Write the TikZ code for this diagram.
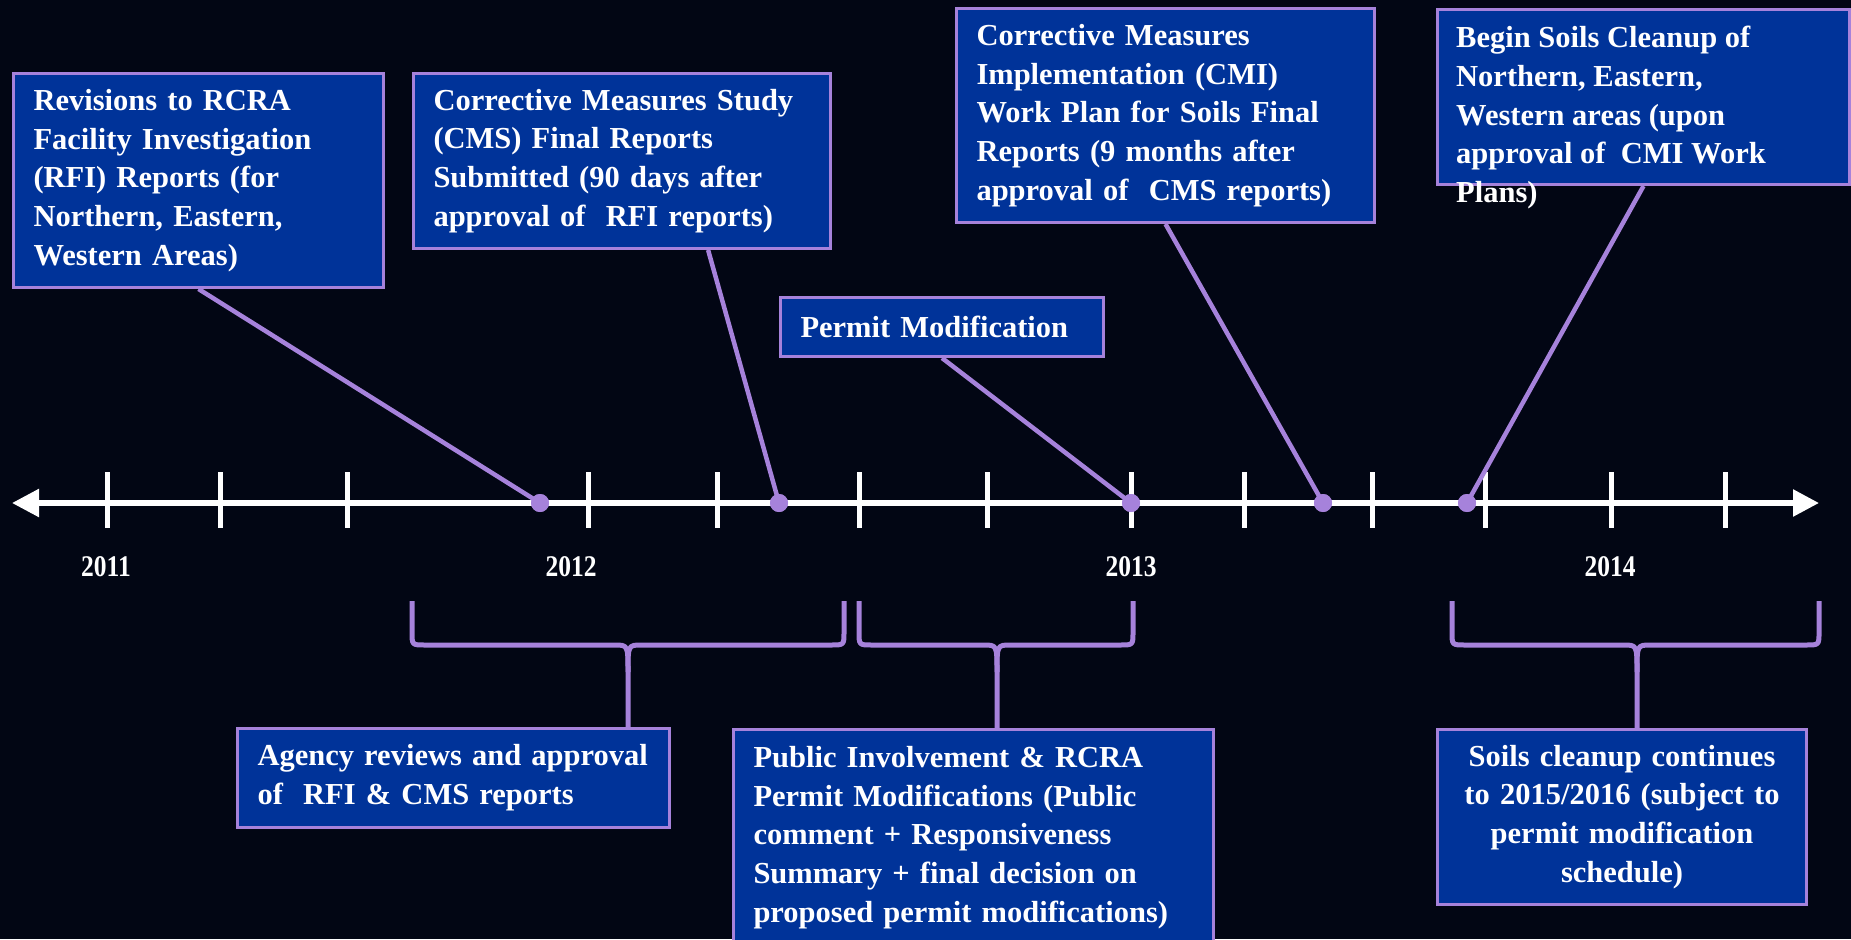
\documentclass[tikz,border=0pt]{standalone}
\usepackage{fontspec}
\setmainfont{Liberation Serif}
\usetikzlibrary{arrows.meta,calc}
\definecolor{bg}{RGB}{2,6,20}
\definecolor{boxblue}{RGB}{0,51,153}
\definecolor{lav}{RGB}{166,130,219}
\newcommand\bxfont{\fontsize{30.5}{38.7}\selectfont\bfseries\hyphenpenalty=10000\exhyphenpenalty=10000}
\newcommand\yrfont{\fontsize{30}{36}\selectfont\bfseries}
\begin{document}
\begin{tikzpicture}[x=1pt,y=-1pt,
  boxnode/.style={draw=lav, line width=3pt, fill=boxblue, text=white, anchor=north west,
    inner xsep=20pt, inner ysep=0pt, align=left, font=\bxfont},
  conn/.style={draw=lav, line width=4.5pt},
  dotnode/.style={circle, fill=lav, inner sep=0pt, minimum size=18pt},
  brace/.style={draw=lav, line width=5pt, line join=round},
  yearnode/.style={text=white, font=\yrfont, inner sep=0pt},
  tick/.style={draw=white, line width=5pt}]
\useasboundingbox (0,0) rectangle (1851,939);
\fill[bg] (0,0) rectangle (1851,939);

% axis
\coordinate (axL) at (12,503);
\coordinate (axR) at (1819,503);
\draw[white, line width=5.5pt, {Triangle[length=27pt,width=27pt]}-{Triangle[length=26pt,width=26pt]}] (axL) -- (axR);
\foreach \x in {107,220,347,588,717,859,987,1131,1244,1372,1485,1611,1725}
  \draw[tick] (\x,472) -- (\x,528);

% year labels
\node[yearnode] (y2011) at (106,567) {\scalebox{0.85}[1]{2011}};
\node[yearnode] (y2012) at (571,567) {\scalebox{0.85}[1]{2012}};
\node[yearnode] (y2013) at (1131,567) {\scalebox{0.85}[1]{2013}};
\node[yearnode] (y2014) at (1610,567) {\scalebox{0.85}[1]{2014}};

% dots
\node[dotnode] (d1) at (540,503) {};
\node[dotnode] (d2) at (779,503) {};
\node[dotnode] (d3) at (1131,503) {};
\node[dotnode] (d4) at (1323,503) {};
\node[dotnode] (d5) at (1467,503) {};

% upper boxes
\node[boxnode, text width=330pt, minimum width=370pt, minimum height=214pt] (b1) at (12,72)
  {Revisions to RCRA\\Facility Investigation\\(RFI) Reports (for\\Northern, Eastern,\\Western Areas)};
\node[boxnode, text width=377pt, minimum width=417pt, minimum height=175pt] (b2) at (412,72)
  {Corrective Measures Study\\(CMS) Final Reports\\Submitted (90 days after\\approval of\ \ RFI reports)};
\node[boxnode, text width=378pt, minimum width=418pt, minimum height=214pt] (b3) at (955,7)
  {Corrective Measures\\Implementation (CMI)\\Work Plan for Soils Final\\Reports (9 months after\\approval of\ \ CMS reports)};
\node[boxnode, minimum width=412pt, minimum height=175pt] (b4) at (1436,8) {};
\node[text=white, font=\bxfont, align=left, inner sep=0pt, anchor=north west] (t4) at (1456,26)
  {Begin Soils Cleanup of\\Northern, Eastern,\\Western areas (upon\\approval of\ \ CMI Work\\Plans)};
\node[boxnode, text width=283pt, minimum width=323pt, minimum height=59pt] (b5) at (779,296)
  {Permit Modification};

% connectors
\draw[conn] (b1.south) -- (d1.center);
\draw[conn] ($(b2.south west)!0.705!(b2.south east)$) -- (d2.center);
\draw[conn] (b5.south) -- (d3.center);
\draw[conn] (b3.south) -- (d4.center);
\draw[conn] (b4.south) -- (d5.center);
\node[dotnode] at (d1) {};
\node[dotnode] at (d2) {};
\node[dotnode] at (d3) {};
\node[dotnode] at (d4) {};
\node[dotnode] at (d5) {};

% lower boxes
\node[boxnode, text width=392pt, minimum width=432pt, minimum height=99pt] (b6) at (236,727)
  {Agency reviews and approval\\of\ \ RFI \& CMS reports};
\node[boxnode, text width=440pt, minimum width=480pt, minimum height=216pt] (b7) at (732,728)
  {Public Involvement \& RCRA\\Permit Modifications (Public\\comment + Responsiveness\\Summary + final decision on\\proposed permit modifications)};
\node[boxnode, align=center, text width=329pt, minimum width=369pt, minimum height=175pt] (b8) at (1436,728)
  {Soils cleanup continues\\to 2015/2016 (subject to\\permit modification\\schedule)};

% braces
\foreach \xl/\xm/\xr/\bx in {412/628/844/b6, 859/997/1133/b7, 1452/1637/1819/b8} {
  \coordinate (m) at (\xm,672);
  \draw[brace] (\xl,601) -- (\xl,632) .. controls (\xl,645) .. (\xl+13,645) -- (\xm-14,645)
     .. controls (\xm,645) .. (m) -- (m |- \bx.north);
  \draw[brace] (\xr,601) -- (\xr,632) .. controls (\xr,645) .. (\xr-13,645) -- (\xm+14,645)
     .. controls (\xm,645) .. (m);
}
\end{tikzpicture}
\end{document}
